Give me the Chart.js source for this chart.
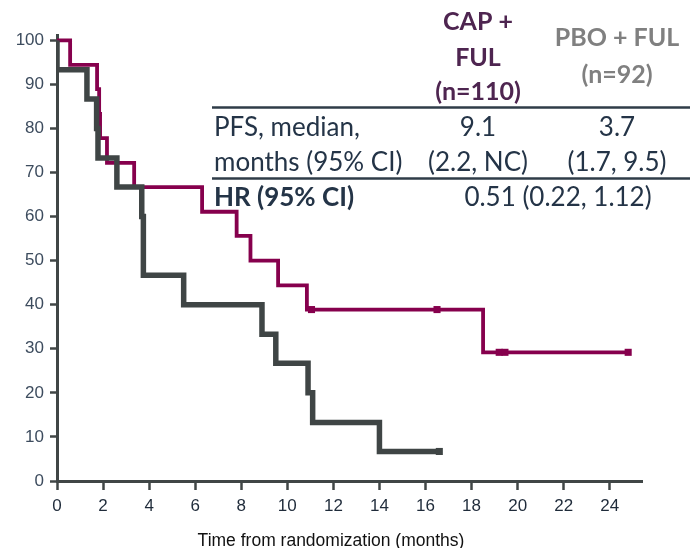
<!DOCTYPE html>
<html>
<head>
<meta charset="utf-8">
<script src="https://cdn.jsdelivr.net/npm/chart.js@4.4.1/dist/chart.umd.min.js"></script>
<style>
  html, body { margin: 0; padding: 0; background: #ffffff; }
  #wrap { width: 690px; height: 548px; position: relative; }
</style>
</head>
<body>
<div id="wrap"><canvas id="c" width="690" height="548"></canvas></div>
<script>
// ---- Data ----
// CAP + FUL: event times (months) and survival (%) after each step
const capTimes = [0, 0.57, 1.74, 1.83, 1.87, 2.17, 3.35, 6.3, 7.8, 8.4, 9.6, 10.85, 18.5, 24.8];
const capSurv  = [100, 94.4, 88.9, 83.3, 77.8, 72.2, 66.7, 61.1, 55.6, 50.0, 44.4, 38.9, 29.2, 29.2];
// CAP + FUL censor marks
const capCensorTimes = [11.05, 16.5, 19.2, 19.45, 24.8];
const capCensorSurv  = [38.9, 38.9, 29.2, 29.2, 29.2];

// PBO + FUL
const pboTimes = [0, 0, 1.3, 1.72, 1.78, 2.6, 3.68, 3.75, 5.5, 8.9, 9.5, 10.9, 11.1, 14.0, 16.6];
const pboSurv  = [100, 93.3, 86.7, 80.0, 73.3, 66.7, 60.0, 46.7, 40.0, 33.3, 26.7, 20.0, 13.3, 6.7, 6.7];
const pboCensorTimes = [16.6];
const pboCensorSurv  = [6.7];

// Axis ticks
const xTicks = [0, 2, 4, 6, 8, 10, 12, 14, 16, 18, 20, 22, 24];
const yTicks = [0, 10, 20, 30, 40, 50, 60, 70, 80, 90, 100];
const xTitle = 'Time from randomization (months)';

// Table text
const colHeadCap = ['CAP +', 'FUL', '(n=110)'];
const colHeadPbo = ['PBO + FUL', '(n=92)'];
const rowLabels = ['PFS, median,', 'months (95% CI)', 'HR (95% CI)'];
const capValues = ['9.1', '(2.2, NC)'];
const pboValues = ['3.7', '(1.7, 9.5)'];
const hrValue = '0.51 (0.22, 1.12)';

const PURPLE = '#86004d';
const GRAY = '#3f4545';

const toXY = (ts, ss) => ts.map((t, i) => ({ x: t, y: ss[i] }));

const tablePlugin = {
  id: 'tablePlugin',
  afterDraw(chart) {
    const ctx = chart.ctx;
    ctx.save();
    ctx.textBaseline = 'middle';
    // header CAP
    ctx.textAlign = 'center';
    ctx.font = 'bold 25px Lato';
    ctx.fillStyle = '#4e2550';
    const capY = [22, 58, 92];
    colHeadCap.forEach((t, i) => ctx.fillText(t, 478, capY[i]));
    ctx.fillStyle = '#808080';
    const pboY = [38, 75];
    colHeadPbo.forEach((t, i) => ctx.fillText(t, 617, pboY[i]));
    // rules
    ctx.strokeStyle = '#2f3c48';
    ctx.lineWidth = 2.5;
    [107.5, 178.5].forEach(y => {
      ctx.beginPath(); ctx.moveTo(212, y); ctx.lineTo(690, y); ctx.stroke();
    });
    // rows
    ctx.fillStyle = '#243447';
    ctx.font = '26px Lato';
    ctx.textAlign = 'left';
    ctx.fillText(rowLabels[0], 214, 128);
    ctx.fillText(rowLabels[1], 214, 163);
    ctx.font = 'bold 26px Lato';
    ctx.fillText(rowLabels[2], 214, 198);
    ctx.font = '26px Lato';
    ctx.textAlign = 'center';
    ctx.fillText(capValues[0], 478, 128);
    ctx.fillText(capValues[1], 478, 163);
    ctx.fillText(pboValues[0], 617, 128);
    ctx.fillText(pboValues[1], 617, 163);
    ctx.fillText(hrValue, 558, 198);
    // x axis title
    ctx.fillStyle = '#111111';
    ctx.font = '17.5px "Liberation Sans"';
    ctx.fillText(xTitle, 331, 541);
    ctx.restore();
  }
};

new Chart(document.getElementById('c'), {
  type: 'line',
  data: {
    datasets: [
      {
        label: 'PBO + FUL censored',
        data: toXY(pboCensorTimes, pboCensorSurv),
        showLine: false,
        pointStyle: 'rect',
        pointRadius: 5,
        pointBackgroundColor: GRAY,
        pointBorderWidth: 0,
        order: 0
      },
      {
        label: 'PBO + FUL',
        data: toXY(pboTimes, pboSurv),
        stepped: 'before',
        borderColor: GRAY,
        borderWidth: 5.5,
        pointRadius: 0,
        fill: false,
        order: 1
      },
      {
        label: 'CAP + FUL censored',
        data: toXY(capCensorTimes, capCensorSurv),
        showLine: false,
        pointStyle: 'rect',
        pointRadius: 5,
        pointBackgroundColor: PURPLE,
        pointBorderWidth: 0,
        order: 2
      },
      {
        label: 'CAP + FUL',
        data: toXY(capTimes, capSurv),
        stepped: 'before',
        borderColor: PURPLE,
        borderWidth: 3.8,
        pointRadius: 0,
        fill: false,
        order: 3
      }
    ]
  },
  options: {
    responsive: false,
    animation: false,
    layout: { padding: { left: 0, top: 35, right: 48, bottom: 0 } },
    plugins: { legend: { display: false }, tooltip: { enabled: false } },
    scales: {
      x: {
        type: 'linear',
        min: 0,
        max: 25.4,
        afterFit(s) { s.height = 67; },
        afterBuildTicks(s) { s.ticks = xTicks.map(v => ({ value: v })); },
        border: { display: true, color: '#404646', width: 3 },
        grid: { drawOnChartArea: false, drawTicks: true, tickLength: 9, tickWidth: 2.5, tickColor: '#404646' },
        ticks: { color: '#1f2b3a', font: { family: 'Liberation Sans', size: 17 }, padding: 6, maxRotation: 0 }
      },
      y: {
        type: 'linear',
        min: 0,
        max: 101.2,
        afterFit(s) { s.width = 57; },
        afterBuildTicks(s) { s.ticks = yTicks.map(v => ({ value: v })); },
        border: { display: true, color: '#404646', width: 3 },
        grid: { drawOnChartArea: false, drawTicks: true, tickLength: 7, tickWidth: 2.5, tickColor: '#404646' },
        ticks: { color: '#3d4c5e', font: { family: 'Liberation Sans', size: 17 }, padding: 6 }
      }
    }
  },
  plugins: [tablePlugin]
});
</script>
</body>
</html>
